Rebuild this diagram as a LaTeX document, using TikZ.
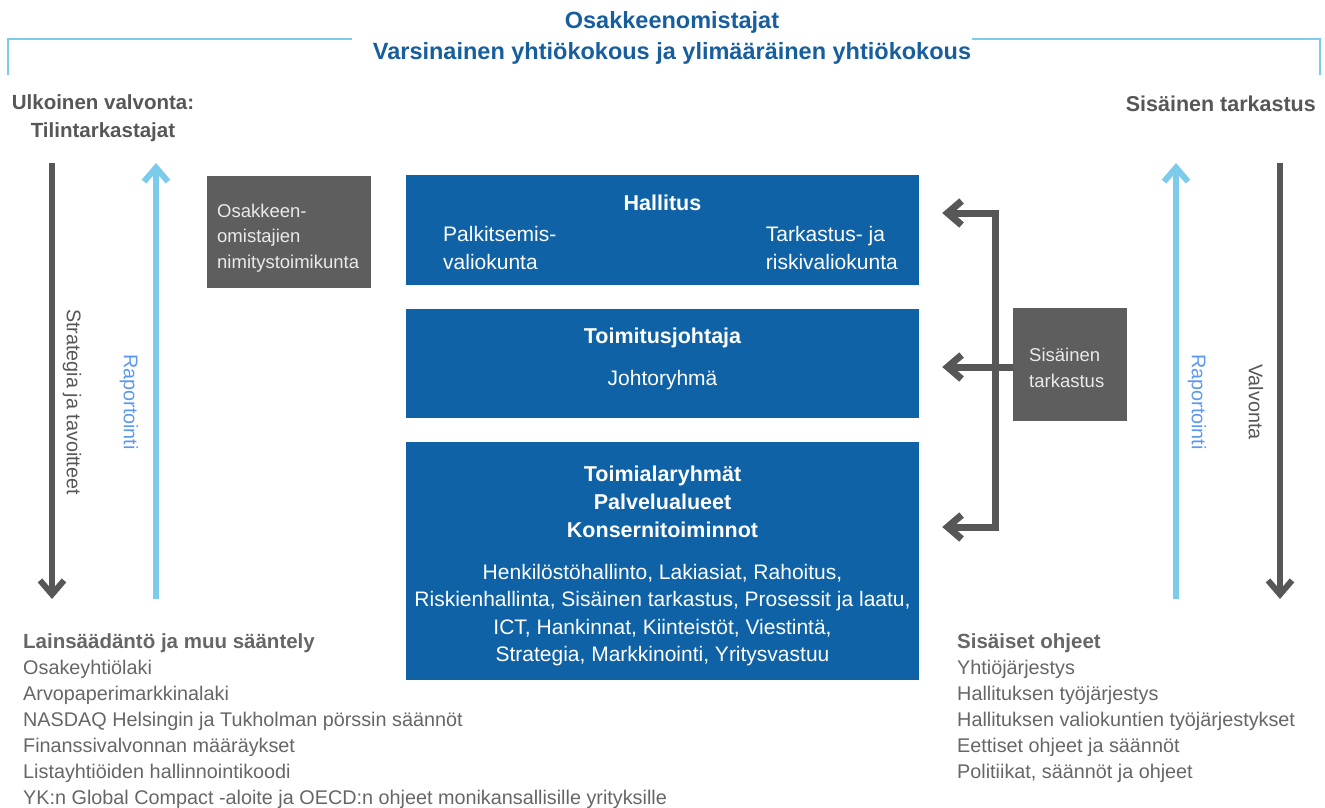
\documentclass[tikz,border=0pt]{standalone}
\usepackage{fontspec}
\setmainfont{Liberation Sans}
\usetikzlibrary{arrows.meta}
\definecolor{boxblue}{HTML}{0E62A5}
\definecolor{hblue}{HTML}{175E9E}
\definecolor{cyanl}{HTML}{7CCBEB}
\definecolor{dgray}{HTML}{575757}
\definecolor{boxgray}{HTML}{5E5E5E}
\definecolor{tgray}{HTML}{666666}
\definecolor{boxtext}{HTML}{EAEAEA}
\newcommand{\listheadfont}{\fontsize{20.5}{26}\selectfont\bfseries}
\begin{document}
\begin{tikzpicture}[x=1pt,y=-1pt,
  bluebox/.style={fill=boxblue, draw=none, inner sep=0pt},
  graybox/.style={fill=boxgray, draw=none, inner sep=0pt},
  wtext/.style={text=white, inner sep=0pt, font=\fontsize{21}{27.3}\selectfont},
  wbold/.style={text=white, inner sep=0pt, font=\fontsize{21.5}{28}\selectfont\bfseries, align=center},
  gtext/.style={text=boxtext, inner sep=0pt, align=left, font=\fontsize{18.5}{25.5}\selectfont},
  grayarrow/.style={draw=dgray, line width=6pt, -{Straight Barb[length=14pt, width=24pt]}},
  cyanarrow/.style={draw=cyanl, line width=6pt, -{Straight Barb[length=14pt, width=24pt]}},
  bracket/.style={draw=dgray, line width=7pt, line join=miter,
     {Straight Barb[length=14pt, width=24pt]}-{Straight Barb[length=14pt, width=24pt]}},
  sidelabel/.style={rotate=-90, inner sep=0pt, font=\fontsize{19.8}{24}\selectfont},
  listtext/.style={text=tgray, inner sep=0pt, anchor=north west, align=left, font=\fontsize{19.8}{26}\selectfont},
  headl/.style={text=dgray, inner sep=0pt, font=\fontsize{20.5}{28}\selectfont\bfseries},
  toptitle/.style={text=hblue, inner sep=0pt, font=\fontsize{23.5}{31}\selectfont\bfseries},
  topline/.style={draw=cyanl, line width=2.5pt}
]
\useasboundingbox (0,0) rectangle (1325,807);

% header
\node[toptitle] (osak) at (672,22) {Osakkeenomistajat};
\node[toptitle] (yk) at (672,53) {Varsinainen yhtiökokous ja ylimääräinen yhtiökokous};
\coordinate (hl1) at (8,75);
\coordinate (hl2) at (8,39);
\coordinate (hl3) at (352,39);
\coordinate (hr1) at (1320,75);
\coordinate (hr2) at (1320,39);
\coordinate (hr3) at (972,39);
\draw[topline] (hl1) -- (hl2) -- (hl3);
\draw[topline] (hr1) -- (hr2) -- (hr3);

% side headings
\node[headl, align=center] (ulk) at (103,118) {Ulkoinen valvonta:\\Tilintarkastajat};
\node[headl, anchor=east, font=\fontsize{21.5}{28}\selectfont\bfseries] (sis) at (1316,104) {Sisäinen tarkastus};

% left arrows
\coordinate (lgT) at (52,163);
\coordinate (lgB) at (52,599);
\coordinate (lcT) at (156,163);
\coordinate (lcB) at (156,599);
\draw[grayarrow] (lgT) -- (lgB);
\draw[cyanarrow] (lcB) -- (lcT);
\node[sidelabel, text=dgray] (strat) at (72,402) {Strategia ja tavoitteet};
\node[sidelabel, text=cyanl!75!blue] (rap1) at (129,402) {Raportointi};

% right arrows
\coordinate (rcT) at (1176,163);
\coordinate (rcB) at (1176,599);
\coordinate (rgT) at (1280,163);
\coordinate (rgB) at (1280,599);
\draw[cyanarrow] (rcB) -- (rcT);
\draw[grayarrow] (rgT) -- (rgB);
\node[sidelabel, text=cyanl!75!blue] (rap2) at (1197,402) {Raportointi};
\node[sidelabel, text=dgray] (valv) at (1256,402) {Valvonta};

% nomination committee
\node[graybox, minimum width=164pt, minimum height=112pt] (nim) at (289,232) {};
\node[gtext, anchor=west] (nimt) at (217,238) {Osakkeen-\\omistajien\\nimitystoimikunta};

% blue boxes
\node[bluebox, minimum width=513pt, minimum height=110pt] (hal) at (662.5,230) {};
\node[wbold] (halt) at (662.5,203) {Hallitus};
\node[wtext, align=left, anchor=west] (palk) at (443,248) {Palkitsemis-\\valiokunta};
\node[wtext, align=left, anchor=east] (tark) at (898,248) {Tarkastus- ja\\riskivaliokunta};

\node[bluebox, minimum width=513pt, minimum height=109pt] (tj) at (662.5,363.5) {};
\node[wbold] (tjt) at (662.5,338) {Toimitusjohtaja};
\node[wtext] (jr) at (662.5,380) {Johtoryhmä};

\node[bluebox, minimum width=513pt, minimum height=238pt] (toim) at (662.5,561) {};
\node[wbold] (toimt) at (662.5,502) {Toimialaryhmät\\Palvelualueet\\Konsernitoiminnot};
\node[wtext, align=center] (toiml) at (662.5,615) {Henkilöstöhallinto, Lakiasiat, Rahoitus,\\Riskienhallinta, Sisäinen tarkastus, Prosessit ja laatu,\\ICT, Hankinnat, Kiinteistöt, Viestintä,\\Strategia, Markkinointi, Yritysvastuu};

% internal audit box
\node[graybox, minimum width=114pt, minimum height=113pt] (sisb) at (1070,364.5) {};
\node[gtext, anchor=west] (sist) at (1029,368) {Sisäinen\\tarkastus};

% bracket arrows
\coordinate (bt) at (995,213);
\coordinate (bb) at (995,527);
\draw[bracket] ([xshift=23pt]hal.east |- bt) -- (bt) -- (bb) -- ([xshift=23pt]toim.east |- bb);
\draw[grayarrow, line width=7pt] (sisb.west |- 0,367) -- ([xshift=23pt]tj.east |- 0,367);

% bottom lists
\node[listtext] (lain) at (23,633) {{\listheadfont Lainsäädäntö ja muu sääntely}\\Osakeyhtiölaki\\Arvopaperimarkkinalaki\\NASDAQ Helsingin ja Tukholman pörssin säännöt\\Finanssivalvonnan määräykset\\Listayhtiöiden hallinnointikoodi\\YK:n Global Compact -aloite ja OECD:n ohjeet monikansallisille yrityksille};
\node[listtext] (ohj) at (957,633) {{\listheadfont Sisäiset ohjeet}\\Yhtiöjärjestys\\Hallituksen työjärjestys\\Hallituksen valiokuntien työjärjestykset\\Eettiset ohjeet ja säännöt\\Politiikat, säännöt ja ohjeet};
\end{tikzpicture}
\end{document}
